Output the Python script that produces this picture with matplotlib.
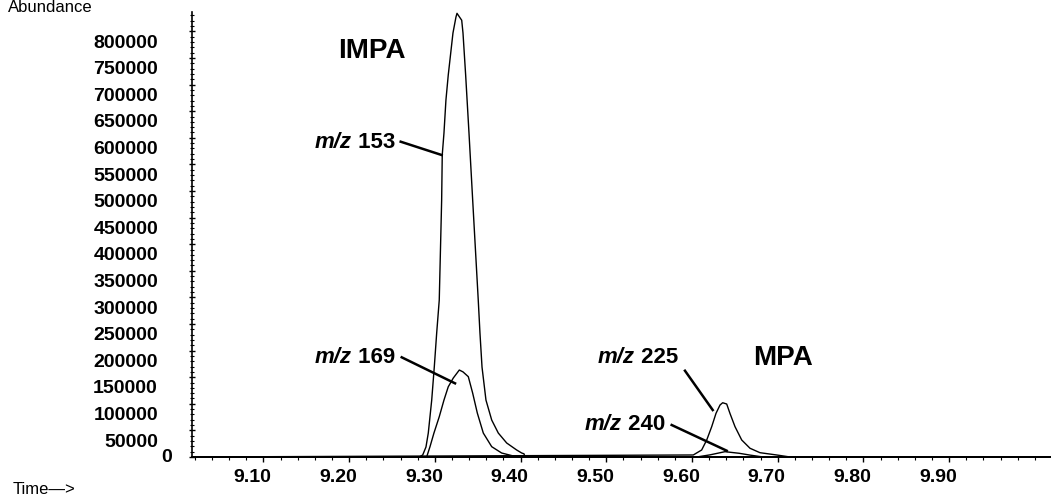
import matplotlib
matplotlib.use("Agg")
import matplotlib.pyplot as plt
import matplotlib.transforms as mtransforms
import numpy as np

plt.rcParams['font.family'] = ['Liberation Sans', 'DejaVu Sans']

# time axis range (min) and abundance range
t_start, t_end = 9.0166, 10.0189
y_top = 836500

# IMPA, m/z 153
t153 = [9.2818, 9.2858, 9.2896, 9.2923, 9.2963, 9.2993, 9.3021, 9.3051, 9.3079, 9.3086,
        9.3106, 9.3129, 9.3156, 9.3211, 9.3246, 9.3258, 9.3313, 9.3328, 9.3359, 9.3398,
        9.3441, 9.3506, 9.3526, 9.3550, 9.3596, 9.3663, 9.3740, 9.3838, 9.3954, 9.4013,
        9.4040, 9.4051]
a153 = [0, 3800, 18800, 45000, 107000, 169000, 233000, 295000, 483000, 568000,
        609000, 671000, 718000, 797000, 827000, 834000, 821000, 797000, 718000, 609000,
        483000, 295000, 233000, 169000, 107000, 69500, 45000, 26300, 13200, 7500,
        6000, 0]

# IMPA, m/z 169
t169 = [9.2904, 9.2943, 9.2989, 9.3051, 9.3106, 9.3156, 9.3215, 9.3285, 9.3328, 9.3390,
        9.3441, 9.3495, 9.3565, 9.3663, 9.3779, 9.3915, 9.3993]
a169 = [0, 19400, 45000, 75700, 107000, 132000, 148500, 163500, 160000, 151000,
        120000, 82700, 45000, 19400, 7500, 1900, 0]

# MPA, m/z 225
t225 = [9.6015, 9.6113, 9.6172, 9.6230, 9.6280, 9.6327, 9.6358, 9.6405, 9.6443, 9.6502,
        9.6580, 9.6677, 9.6793, 9.6988, 9.7144]
a225 = [3800, 13200, 32000, 57000, 82000, 97700, 102000, 99600, 82000, 57000,
        32000, 16400, 8100, 3800, 0]

# MPA, m/z 240
t240 = [9.6055, 9.6210, 9.6385, 9.6550, 9.6680, 9.6830]
a240 = [0, 4000, 10000, 7000, 3500, 0]

y_major = np.arange(0, 800001, 50000)
x_major = [9.10, 9.20, 9.30, 9.40, 9.50, 9.60, 9.70, 9.80, 9.90]
x_labels = ['9.10', '9.20', '9.30', '9.40', '9.50', '9.60', '9.70', '9.80', '9.90']

# (ion, text right edge x, text y, line start, line end)
labels = [
    ('153', 9.2534, 581000, (9.2601, 592700), (9.3079, 567700)),
    ('169', 9.2534, 176700, (9.2613, 187400), (9.3235, 138500)),
    ('225', 9.5837, 176700, (9.5918, 162200), (9.6242, 88300)),
    ('240', 9.5685, 50800, (9.5763, 60150), (9.6405, 11840)),
]
compounds = [('IMPA', 9.1869, 750000), ('MPA', 9.6712, 172900)]


def full_trace(t, a):
    return [t_start] + t + [t_end], [0] + a + [0]


fig = plt.figure(figsize=(10.51, 5.0), dpi=100)
ax = fig.add_axes([192 / 1051, 43 / 500, 859 / 1051, 445 / 500])

for t, a in [(t153, a153), (t169, a169), (t225, a225), (t240, a240)]:
    tt, aa = full_trace(t, a)
    ax.plot(tt, aa, color='black', lw=1.0, clip_on=False)

ax.set_xlim(t_start, t_end)
ax.set_ylim(0, y_top)
for s in ['top', 'right']:
    ax.spines[s].set_visible(False)
ax.spines['left'].set_linewidth(1.2)
ax.spines['bottom'].set_linewidth(1.4)

ax.set_yticks(y_major)
ax.set_yticks(np.arange(0, y_top, 10000), minor=True)
ax.set_xticks(x_major)
ax.set_xticks(np.arange(9.02, 10.02, 0.02), minor=True)
ax.set_xticklabels([])
ax.set_yticklabels([])
ax.tick_params(axis='y', which='major', direction='inout', length=5, width=1)
ax.tick_params(axis='y', which='minor', direction='inout', length=2.5, width=0.8)
ax.tick_params(axis='x', which='major', direction='out', length=3.5, width=1)
ax.tick_params(axis='x', which='minor', direction='out', length=2.5, width=0.8)

# tick labels sit a little off their ticks, like the instrument printout
ylab_tr = mtransforms.blended_transform_factory(ax.transAxes, ax.transData) + \
    mtransforms.ScaledTranslation(-34 / 100, -11.6 / 100, fig.dpi_scale_trans)
for v in y_major[1:]:
    ax.text(0, v, str(v), transform=ylab_tr, ha='right', va='center',
            fontsize=14, fontweight='bold')
zero_tr = mtransforms.blended_transform_factory(ax.transAxes, ax.transData) + \
    mtransforms.ScaledTranslation(-25 / 100, -1 / 100, fig.dpi_scale_trans)
ax.text(0, 0, '0', transform=zero_tr, ha='center', va='center', fontsize=14, fontweight='bold')

xlab_tr = mtransforms.blended_transform_factory(ax.transData, ax.transAxes) + \
    mtransforms.ScaledTranslation(-11 / 100, -12 / 100, fig.dpi_scale_trans)
for v, s in zip(x_major, x_labels):
    ax.text(v, 0, s, transform=xlab_tr, ha='center', va='top', fontsize=14, fontweight='bold')

fig.text(8 / 1051, 1.0, 'Abundance', ha='left', va='top', fontsize=12)
fig.text(13 / 1051, 1 - 489 / 500, 'Time\u2014>', ha='left', va='center', fontsize=12)

# "m/z" in bold italic, ion number in bold, drawn as two pieces
renderer = fig.canvas.get_renderer()
for ion, x, y, p0, p1 in labels:
    num = ax.text(x, y, ' ' + ion, ha='right', va='baseline', fontsize=16, fontweight='bold')
    w = num.get_window_extent(renderer).width
    tr = ax.transData + mtransforms.ScaledTranslation(-w / fig.dpi, 0, fig.dpi_scale_trans)
    ax.text(x, y, 'm/z', transform=tr, ha='right', va='baseline', fontsize=16,
            fontweight='bold', fontstyle='italic')
    ax.plot([p0[0], p1[0]], [p0[1], p1[1]], color='black', lw=1.8, clip_on=False)

for name, x, y in compounds:
    ax.text(x, y, name, ha='left', va='baseline', fontsize=20, fontweight='bold')

fig.savefig('out.png', dpi=100)
